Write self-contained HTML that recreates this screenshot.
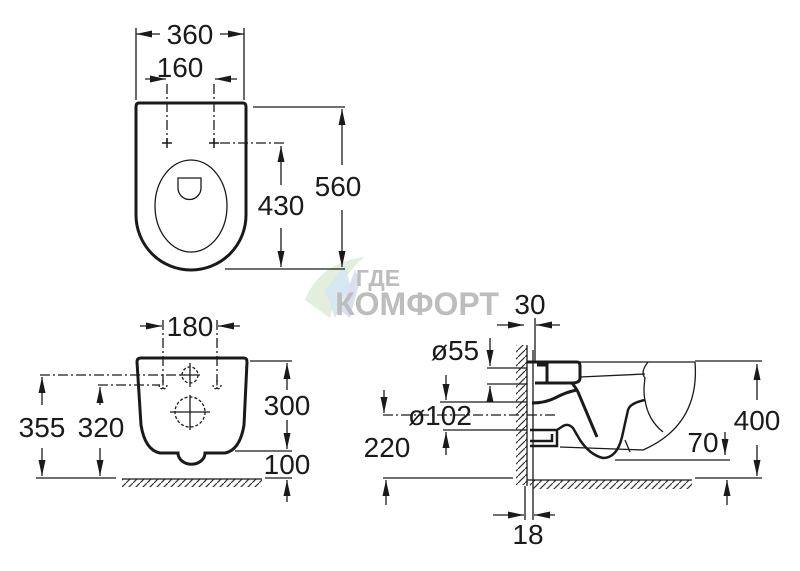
<!DOCTYPE html>
<html><head><meta charset="utf-8"><style>
html,body{margin:0;padding:0;background:#fff}
svg{display:block}
text{font-family:"Liberation Sans",sans-serif;font-size:28px;fill:#1a1a1a;text-anchor:middle}
</style></head><body>
<svg width="800" height="571" viewBox="0 0 800 571" xmlns="http://www.w3.org/2000/svg">
<defs>
<marker id="a" viewBox="0 0 16 7" refX="16" refY="3.5" markerWidth="16" markerHeight="7" markerUnits="userSpaceOnUse" orient="auto"><path d="M0,0 L16,3.5 L0,7 Z" fill="#1a1a1a"/></marker>
<pattern id="h" width="7" height="7" patternUnits="userSpaceOnUse"><path d="M0,7 L7,0" stroke="#333" stroke-width="1.2"/></pattern>
</defs>
<g stroke="none">
<path d="M305,300 Q320,262 365,257 Q340,275 330,318 Z" fill="#e3eedd"/>
<path d="M325,290 L345,265 L350,285 L335,318 Z" fill="#d6e8f2"/>
<path d="M340,310 L355,270 L360,280 L350,318 Z" fill="#dcdff0"/>
</g>
<text x="378" y="286" style="font-size:23px;font-weight:bold;fill:#bdbdbd">ГДЕ</text>
<text x="417" y="315" style="font-size:32px;font-weight:bold;fill:#bdbdbd">КОМФОРТ</text>

<g stroke="#1a1a1a" fill="none" stroke-width="1.3">
<!-- TOP VIEW -->
<path d="M139,103 L243,103 Q246,103 246,107 L246,215 A55,55 0 0 1 136,215 L136,107 Q136,103 139,103 Z" stroke-width="3"/>
<ellipse cx="191" cy="206" rx="36" ry="46"/>
<path d="M178,178 L201,178 L201,188 A11.5,11.5 0 0 1 178,188 Z"/>
<path d="M136,28 V100 M244,28 V100"/>
<g marker-end="url(#a)">
<path d="M160,34 H136"/><path d="M220,34 H244"/>
<path d="M145,79 H166"/><path d="M237,79 H215"/>
<path d="M281,185 V146"/><path d="M281,228 V267"/>
<path d="M342,165 V109"/><path d="M342,210 V267"/>
</g>
<path d="M167,84 V143 M214,84 V143 M220,143 H285" stroke-dasharray="10,3,2,3"/>
<path d="M162,143 H172 M167,138 V148 M209,143 H219 M214,138 V148" stroke-width="1.5"/>
<path d="M253,107 H345 M225,269 H345"/>

<!-- FRONT VIEW -->
<path d="M141,358 L244,358 Q247,358 247,362 L244,425 Q240,450 225,453 L205,453 A12,10 0 0 1 178,453 L160,453 Q145,450 141,425 L137,362 Q137,358 141,358 Z" stroke-width="3"/>
<g marker-end="url(#a)">
<path d="M140,326 H162"/><path d="M240,326 H218"/>
<path d="M42,405 V377"/><path d="M42,448 V476"/>
<path d="M100,405 V387"/><path d="M100,448 V476"/>
<path d="M287,390 V363"/><path d="M287,420 V449"/>
<path d="M287,502 V480"/>
</g>
<path d="M163,320 V384 M217,320 V384" stroke-dasharray="10,3,2,3"/>
<path d="M40,375 H185 M98,385 H160" stroke-dasharray="10,3,2,3"/>
<circle cx="190" cy="375" r="8" stroke-dasharray="3,2"/>
<path d="M180,375 H200 M190,363 V387"/>
<circle cx="190" cy="412" r="15" stroke-dasharray="3,2"/>
<path d="M170,412 H210 M190,395 V430"/>
<path d="M159,385 A4,4 0 0 0 167,385 M213,385 A4,4 0 0 0 221,385 M163,380 V389 M217,380 V389" stroke-dasharray="2,1.5"/>
<path d="M36,478 H116"/>
<rect x="122" y="479" width="140" height="8" fill="url(#h)" stroke="none"/>
<path d="M122,479 H262"/>
<path d="M250,361 H292 M235,451 H292 M265,478 H292"/>

<!-- SIDE VIEW -->
<rect x="516" y="345" width="11" height="140" fill="url(#h)" stroke="none"/>
<path d="M527,345 V486 M533,350 V520 M525,486 V520"/>
<rect x="530" y="480" width="162" height="9" fill="url(#h)" stroke="none"/>
<path d="M527,480 H692"/>
<path d="M535,318 V362"/>
<g marker-end="url(#a)">
<path d="M497,325 H524"/><path d="M560,325 H536"/>
<path d="M493,515 H524"/><path d="M555,515 H534"/>
<path d="M490,338 V366"/><path d="M490,400 V386"/>
<path d="M446,375 V400"/><path d="M446,455 V432"/>
<path d="M384,390 V413"/><path d="M386,505 V480"/>
<path d="M725,432 V455"/>
<path d="M757,400 V364"/><path d="M757,445 V476"/>
<path d="M727,505 V480"/>
</g>
<path d="M527,362 H577 Q580,362 580,366 L580,378 Q580,383 572,383 L535,383 M537,365 H547 V382" stroke-width="3"/>
<path d="M580,362 H695 M580,377 L645,374"/>
<path d="M695,362 Q700,425 643,450 L560,447"/>
<path d="M648,362 Q640,372 645,378 Q643,392 645,400 Q648,420 663,432"/>
<path d="M572,383 Q576,388 578,392 L597,437 M532,403 Q545,403 555,398 Q566,392 577,390" stroke-width="3"/>
<path d="M645,400 Q630,403 628,410 L622,437 Q617,458 603,458 Q590,455 580,440 L573,428 Q568,423 563,426 L557,430 H530 M530,446 H557 V431 M530,441 H552 V434" stroke-width="2.5"/>
<path d="M625,440 L630,452"/>
<path d="M487,368 H527 M487,384 H527 M440,402 H527 M443,430 H527 M615,460 H730 M383,478 H513 M695,361 H762 M695,478 H762"/>
<path d="M383,415 H555" stroke-dasharray="10,3,2,3"/>
</g>

<text x="190" y="44">360</text>
<text x="180" y="77">160</text>
<text x="281" y="215">430</text>
<text x="338" y="196">560</text>
<text x="190" y="336">180</text>
<text x="42" y="437">355</text>
<text x="101" y="437">320</text>
<text x="287" y="415">300</text>
<text x="287" y="474">100</text>
<text x="530" y="314">30</text>
<text x="455" y="360">ø55</text>
<text x="440" y="425">ø102</text>
<text x="387" y="457">220</text>
<text x="703" y="452">70</text>
<text x="757" y="430">400</text>
<text x="528" y="544">18</text>
</svg>
</body></html>
